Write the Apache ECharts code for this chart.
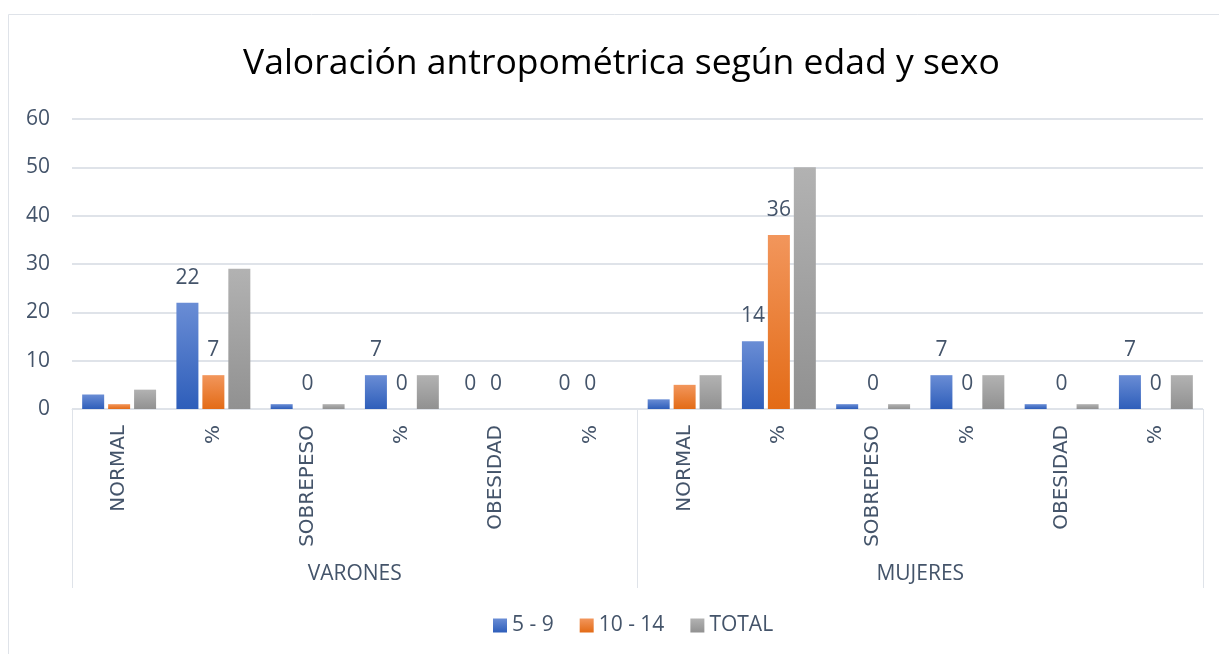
<!DOCTYPE html>
<html>
<head>
<meta charset="utf-8">
<script src="https://cdn.jsdelivr.net/npm/echarts@6/dist/echarts.min.js"></script>
<style>
html, body { margin: 0; padding: 0; background: #fff; }
#chart { width: 1219px; height: 654px; }
</style>
</head>
<body>
<div id="chart"></div>
<script>
// categorias (nivel 1 y nivel 2)
const categorias = ['NORMAL', '%', 'SOBREPESO', '%', 'OBESIDAD', '%',
                    'NORMAL', '%', 'SOBREPESO', '%', 'OBESIDAD', '%'];
const grupos = ['VARONES', 'MUJERES'];
const series59 = [3, 22, 1, 7, 0, 0, 2, 14, 1, 7, 1, 7];
const series1014 = [1, 7, 0, 0, 0, 0, 5, 36, 0, 0, 0, 0];
const seriesTotal = [4, 29, 1, 7, 0, 0, 7, 50, 1, 7, 1, 7];
// que puntos llevan etiqueta de dato (1 = si)
const etiq59 = [0, 1, 0, 1, 1, 1, 0, 1, 0, 1, 0, 1];
const etiq1014 = [0, 1, 1, 1, 1, 1, 0, 1, 1, 1, 1, 1];
const yTicks = [0, 10, 20, 30, 40, 50, 60];

const txtColor = '#44546a';
const lineColor = '#dfe3e9';

function grad(top, bottom) {
  return new echarts.graphic.LinearGradient(0, 0, 0, 1, [
    { offset: 0, color: top },
    { offset: 1, color: bottom }
  ]);
}

function withLabels(vals, flags) {
  return vals.map((v, i) => ({
    value: v,
    label: { show: flags ? flags[i] === 1 : false }
  }));
}

const labelStyle = {
  position: 'top',
  distance: 14,
  fontFamily: 'Open Sans',
  fontSize: 21,
  lineHeight: 22,
  color: txtColor
};

let myChart = echarts.init(document.getElementById('chart'));
let option = {
  animation: false,
  title: {
    text: 'Valoración antropométrica según edad y sexo',
    left: 238,
    top: 41,
    textStyle: {
      fontFamily: 'Open Sans',
      fontWeight: 'normal',
      fontSize: 35.5,
      color: '#000'
    }
  },
  graphic: [{
    type: 'rect',
    shape: { x: 8.5, y: 14.5, width: 1400, height: 800 },
    style: { fill: 'none', stroke: lineColor, lineWidth: 1 },
    silent: true
  }],
  grid: {
    left: 72,
    right: 16,
    top: 119,
    bottom: 245
  },
  legend: {
    bottom: 13,
    left: 488,
    itemWidth: 14,
    itemHeight: 14,
    itemGap: 26,
    icon: 'rect',
    textStyle: {
      fontFamily: 'Open Sans',
      fontSize: 21,
      color: txtColor
    },
    data: ['5 - 9', '10 - 14', 'TOTAL']
  },
  xAxis: [
    {
      type: 'category',
      data: categorias,
      position: 'bottom',
      axisTick: { show: false },
      axisLine: { lineStyle: { color: lineColor, width: 1 } },
      axisLabel: {
        rotate: 90,
        interval: 0,
        margin: 16,
        fontFamily: 'DejaVu Sans',
        fontSize: 20,
        color: txtColor
      }
    },
    {
      type: 'category',
      data: grupos,
      position: 'bottom',
      offset: 0,
      axisLine: { show: false },
      axisTick: {
        show: true,
        length: 179,
        lineStyle: { color: lineColor, width: 1 }
      },
      axisLabel: {
        margin: 155,
        fontFamily: 'Open Sans',
        fontSize: 21,
        color: txtColor
      },
      splitLine: { show: false }
    }
  ],
  yAxis: {
    type: 'value',
    min: yTicks[0],
    max: yTicks[yTicks.length - 1],
    interval: 10,
    axisLine: { show: false },
    axisTick: { show: false },
    splitLine: { lineStyle: { color: lineColor, width: 2 } },
    axisLabel: {
      margin: 22,
      fontFamily: 'Open Sans',
      fontSize: 21,
      color: txtColor
    }
  },
  series: [
    {
      name: '5 - 9',
      type: 'bar',
      xAxisIndex: 0,
      barWidth: 22,
      barGap: '18%',
      data: withLabels(series59, etiq59),
      label: labelStyle,
      itemStyle: { color: grad('#6a8dd5', '#2e5eba') }
    },
    {
      name: '10 - 14',
      type: 'bar',
      xAxisIndex: 0,
      barWidth: 22,
      barGap: '18%',
      data: withLabels(series1014, etiq1014),
      label: labelStyle,
      itemStyle: { color: grad('#f2965c', '#e36b16') }
    },
    {
      name: 'TOTAL',
      type: 'bar',
      xAxisIndex: 0,
      barWidth: 22,
      barGap: '18%',
      data: withLabels(seriesTotal, null),
      label: labelStyle,
      itemStyle: { color: grad('#b2b2b2', '#919191') }
    }
  ]
};

myChart.setOption(option);
window.addEventListener('resize', function () {
  myChart.resize();
});
</script>
</body>
</html>
